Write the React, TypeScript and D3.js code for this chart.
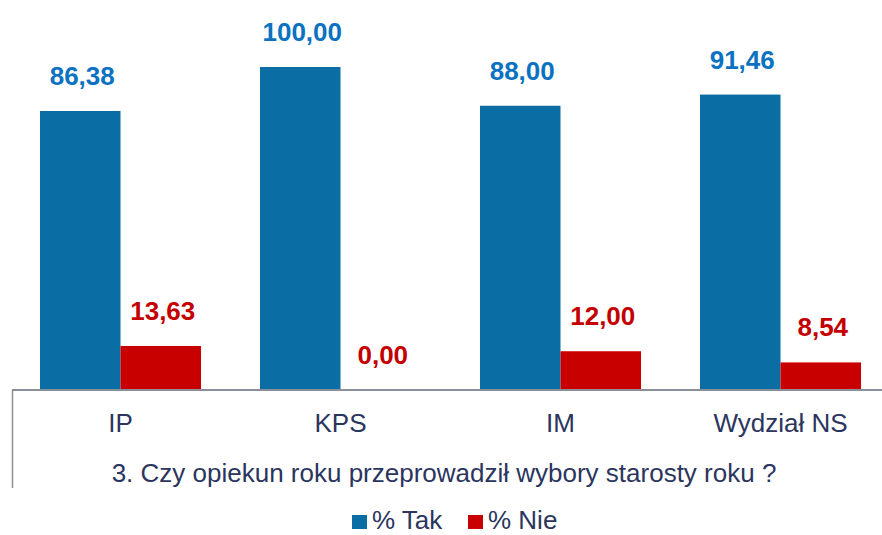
import { useEffect, useRef } from 'react';
import * as d3 from 'd3';

const categories = ['IP', 'KPS', 'IM', 'Wydział NS'];
const seriesNames = ['% Tak', '% Nie'];
const takValues = [86.38, 100.0, 88.0, 91.46];
const nieValues = [13.63, 0.0, 12.0, 8.54];
const axisTitle = '3. Czy opiekun roku przeprowadził wybory starosty roku ?';

const BAR_COLORS = ['#0A6EA4', '#C80000'];
const LABEL_COLORS = ['#0B72C2', '#C40000'];
const TEXT_COLOR = '#2B355E';
const AXIS_COLOR = '#8C8E99';
const FONT = 'Liberation Sans, Arial, sans-serif';

const fmt = (v: number) => v.toFixed(2).replace('.', ',');

export default function App() {
  const svgRef = useRef<SVGSVGElement>(null);

  useEffect(() => {
    if (!svgRef.current) return;
    const width = 882;
    const height = 535;
    const svg = d3.select(svgRef.current).attr('width', width).attr('height', height);
    svg.selectAll('*').remove();

    const baseline = 390;
    const x0 = d3
      .scaleBand<string>()
      .domain(categories)
      .range([10.5, 890.5])
      .paddingInner(0.268)
      .paddingOuter(0.134);
    const x1 = d3
      .scaleBand<string>()
      .domain(seriesNames)
      .range([0, x0.bandwidth()]);
    const y = d3.scaleLinear().domain([0, 100]).range([baseline, 67]);

    const series = [takValues, nieValues];

    series.forEach((values, si) => {
      const g = svg.append('g');
      g.selectAll('rect')
        .data(values)
        .join('rect')
        .attr('x', (_, i) => (x0(categories[i]) ?? 0) + (x1(seriesNames[si]) ?? 0))
        .attr('y', (d) => y(d))
        .attr('width', x1.bandwidth())
        .attr('height', (d) => baseline - y(d))
        .attr('fill', BAR_COLORS[si]);

      g.selectAll('text')
        .data(values)
        .join('text')
        .attr(
          'x',
          (_, i) =>
            (x0(categories[i]) ?? 0) + (x1(seriesNames[si]) ?? 0) + x1.bandwidth() / 2 + 2
        )
        .attr('y', (d) => y(d) - 26)
        .attr('text-anchor', 'middle')
        .attr('font-family', FONT)
        .attr('font-weight', 'bold')
        .attr('font-size', 26)
        .attr('fill', LABEL_COLORS[si])
        .text((d) => fmt(d));
    });

    // axis lines
    svg
      .append('line')
      .attr('x1', 12)
      .attr('x2', width)
      .attr('y1', baseline)
      .attr('y2', baseline)
      .attr('stroke', AXIS_COLOR)
      .attr('stroke-width', 2);
    svg
      .append('line')
      .attr('x1', 12.5)
      .attr('x2', 12.5)
      .attr('y1', baseline)
      .attr('y2', 488)
      .attr('stroke', AXIS_COLOR)
      .attr('stroke-width', 1.5);

    svg
      .append('g')
      .selectAll('text')
      .data(categories)
      .join('text')
      .attr('x', (d) => (x0(d) ?? 0) + x0.bandwidth() / 2)
      .attr('y', 432)
      .attr('text-anchor', 'middle')
      .attr('font-family', FONT)
      .attr('font-size', 26)
      .attr('fill', TEXT_COLOR)
      .text((d) => d);

    svg
      .append('text')
      .attr('x', 444)
      .attr('y', 482)
      .attr('text-anchor', 'middle')
      .attr('font-family', FONT)
      .attr('font-size', 26)
      .attr('fill', TEXT_COLOR)
      .text(axisTitle);

    // legend
    const legend = svg.append('g');
    const legendX = [352, 468];
    seriesNames.forEach((name, i) => {
      legend
        .append('rect')
        .attr('x', legendX[i])
        .attr('y', 515)
        .attr('width', 15)
        .attr('height', 14)
        .attr('fill', BAR_COLORS[i]);
      legend
        .append('text')
        .attr('x', legendX[i] + 20)
        .attr('y', 529)
        .attr('font-family', FONT)
        .attr('font-size', 26)
        .attr('fill', TEXT_COLOR)
        .text(name);
    });
  }, []);

  return (
    <svg
      ref={svgRef}
      style={{ position: 'absolute', left: 0, top: 0, background: '#fff' }}
    />
  );
}
